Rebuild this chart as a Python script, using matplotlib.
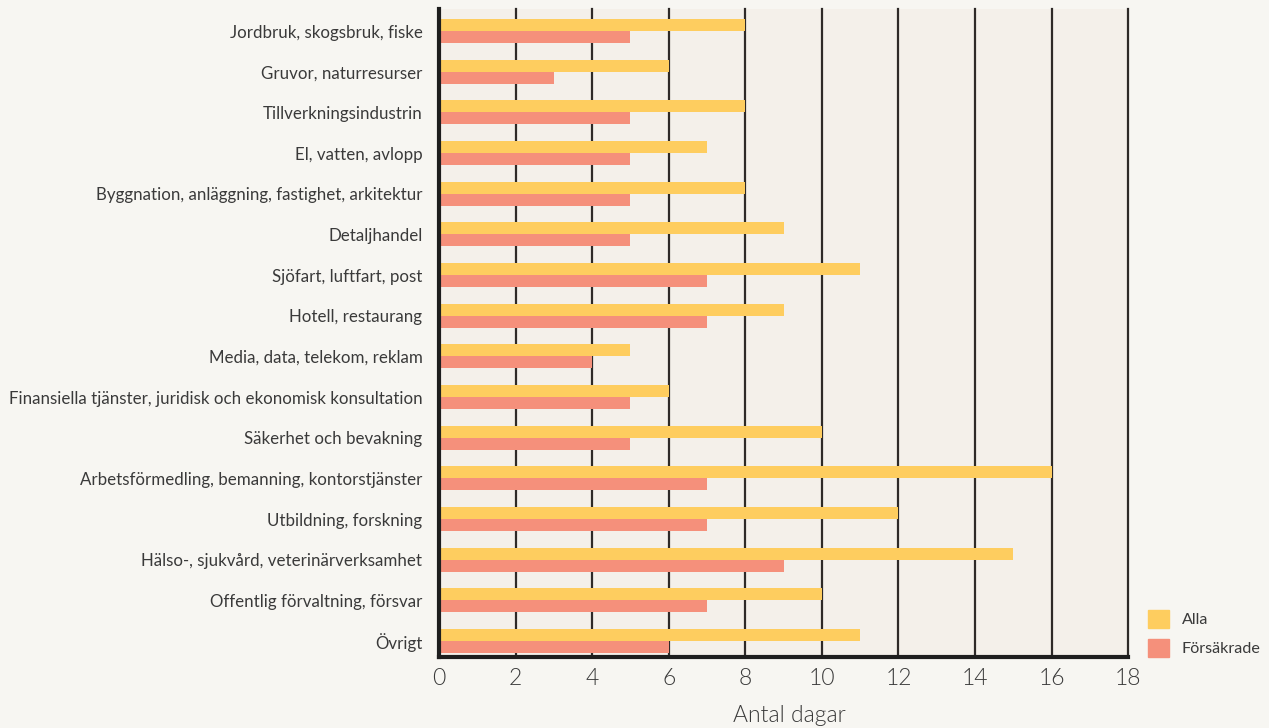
import matplotlib
matplotlib.use("Agg")
import matplotlib.pyplot as plt
import numpy as np
from matplotlib.patches import Patch

categories = [
    "Jordbruk, skogsbruk, fiske",
    "Gruvor, naturresurser",
    "Tillverkningsindustrin",
    "El, vatten, avlopp",
    "Byggnation, anläggning, fastighet, arkitektur",
    "Detaljhandel",
    "Sjöfart, luftfart, post",
    "Hotell, restaurang",
    "Media, data, telekom, reklam",
    "Finansiella tjänster, juridisk och ekonomisk konsultation",
    "Säkerhet och bevakning",
    "Arbetsförmedling, bemanning, kontorstjänster",
    "Utbildning, forskning",
    "Hälso-, sjukvård, veterinärverksamhet",
    "Offentlig förvaltning, försvar",
    "Övrigt",
]
alla = [8, 6, 8, 7, 8, 9, 11, 9, 5, 6, 10, 16, 12, 15, 10, 11]
forsakrade = [5, 3, 5, 5, 5, 5, 7, 7, 4, 5, 5, 7, 7, 9, 7, 6]
x_ticks = [0, 2, 4, 6, 8, 10, 12, 14, 16, 18]

plt.rcParams["font.family"] = ["Lato", "DejaVu Sans"]
text_color = "#3a3a3a"

fig = plt.figure(figsize=(12.69, 7.28), dpi=100, facecolor="#f7f6f2")
ax = fig.add_axes([0.346, 0.0975, 0.543, 0.890])
ax.set_facecolor("#f4f0ea")

y = np.arange(len(categories))
h = 0.295
ax.barh(y - h / 2, alla, height=h, color="#fecd5f", zorder=3, label="Alla")
ax.barh(y + h / 2, forsakrade, height=h, color="#f5907b", zorder=3, label="Försäkrade")

ax.set_xlim(0, 18)
ax.set_ylim(15.39, -0.54)
ax.set_xticks(x_ticks)
ax.set_xticklabels([str(t) for t in x_ticks], fontsize=16.5, color=text_color,
                   fontweight=300)
ax.set_yticks(y)
ax.set_yticklabels(categories, fontsize=12.2, color=text_color)
ax.tick_params(axis="both", length=0)
ax.tick_params(axis="x", pad=8)
ax.tick_params(axis="y", pad=12)

for t in x_ticks[1:]:
    ax.axvline(t, color="#2e2a28", lw=1.6, zorder=1, clip_on=False)

for side in ["top", "right"]:
    ax.spines[side].set_visible(False)
for side in ["left", "bottom"]:
    ax.spines[side].set_linewidth(3)
    ax.spines[side].set_color("#1e1e1e")
    ax.spines[side].set_zorder(4)

fig.text(789 / 1269, 1 - 716 / 728, "Antal dagar", fontsize=16.5, color=text_color,
         fontweight=300, ha="center", va="center")

handles = [Patch(color="#fecd5f", label="Alla"), Patch(color="#f5907b", label="Försäkrade")]
fig.legend(handles=handles, loc="lower left", bbox_to_anchor=(0.893, 0.078),
           frameon=False, fontsize=11.6, handlelength=1.3, handleheight=1.3,
           labelspacing=0.7, handletextpad=0.8, labelcolor=text_color)

fig.savefig("out.png", dpi=100, facecolor=fig.get_facecolor())
